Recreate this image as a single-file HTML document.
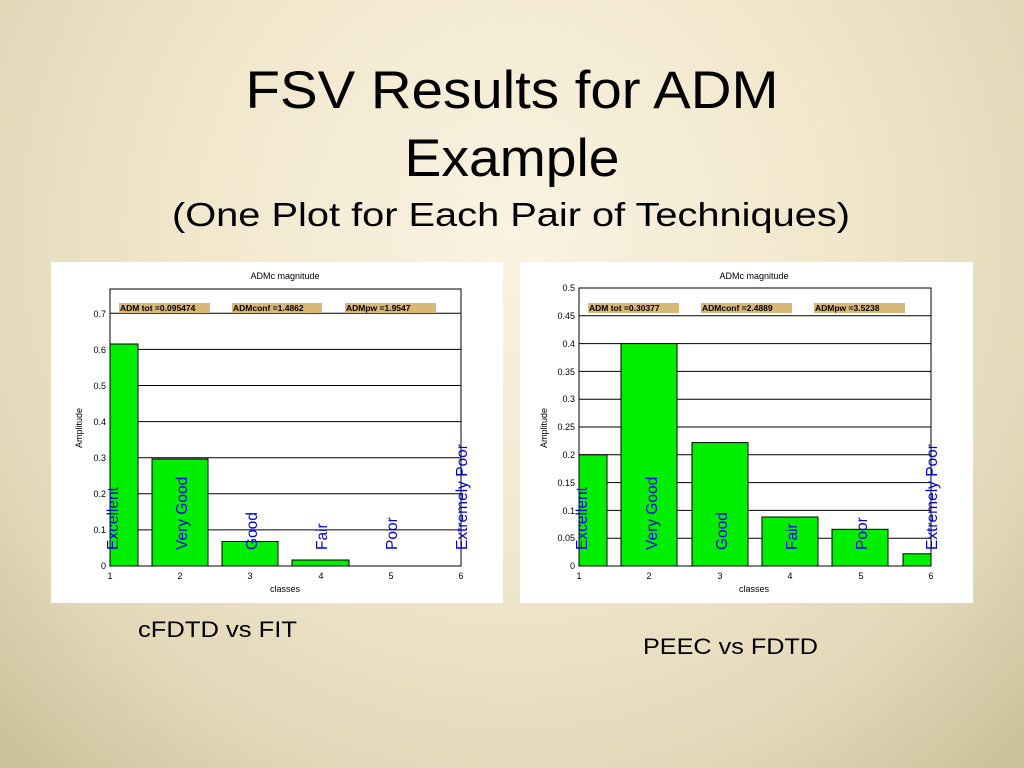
<!DOCTYPE html>
<html><head><meta charset="utf-8"><style>
html,body{margin:0;padding:0;width:1024px;height:768px;overflow:hidden}
body{background:radial-gradient(ellipse 70% 95% at 50% 30%,#faf3e2 0%,#f1e7cc 45%,#e2d7b7 78%,#cdc19c 100%)}
svg{position:absolute;left:0;top:0}
text{font-family:"Liberation Sans",Arial,sans-serif}
</style></head><body>
<svg width="1024" height="768" viewBox="0 0 1024 768">
<text x="512" y="108" font-size="53" text-anchor="middle" textLength="533" lengthAdjust="spacingAndGlyphs">FSV Results for ADM</text>
<text x="512" y="176" font-size="53" text-anchor="middle" textLength="215" lengthAdjust="spacingAndGlyphs">Example</text>
<text x="511" y="226" font-size="33" text-anchor="middle" textLength="678" lengthAdjust="spacingAndGlyphs">(One Plot for Each Pair of Techniques)</text>
<text x="138" y="637" font-size="22" textLength="159" lengthAdjust="spacingAndGlyphs">cFDTD vs FIT</text>
<text x="643" y="654" font-size="22" textLength="175" lengthAdjust="spacingAndGlyphs">PEEC vs FDTD</text>

<!-- LEFT PLOT -->
<rect x="51" y="262" width="452" height="341" fill="#fff"/>
<g stroke="#000" stroke-width="1">
<line x1="110" y1="529.9" x2="461" y2="529.9"/><line x1="110" y1="493.8" x2="461" y2="493.8"/>
<line x1="110" y1="457.7" x2="461" y2="457.7"/><line x1="110" y1="421.6" x2="461" y2="421.6"/>
<line x1="110" y1="385.5" x2="461" y2="385.5"/><line x1="110" y1="349.4" x2="461" y2="349.4"/>
<line x1="110" y1="313.3" x2="461" y2="313.3"/>
</g>
<g fill="#00ee00" stroke="#000" stroke-width="1">
<rect x="110" y="344" width="28" height="222"/>
<rect x="152" y="459" width="56" height="107"/>
<rect x="222" y="541.5" width="56" height="24.5"/>
<rect x="292" y="560" width="57" height="6"/>
</g>
<rect x="110" y="289" width="351" height="277" fill="none" stroke="#000"/>
<g fill="#d8b878"><rect x="119" y="303" width="91" height="10"/><rect x="232" y="303" width="90" height="10"/><rect x="345" y="303" width="91" height="10"/></g>
<g font-size="8.5" font-weight="bold"><text x="120" y="311">ADM tot =0.095474</text><text x="233" y="311">ADMconf =1.4862</text><text x="346" y="311">ADMpw =1.9547</text></g>
<text x="285" y="279" font-size="9" text-anchor="middle">ADMc magnitude</text>
<text x="285" y="592" font-size="9" text-anchor="middle">classes</text>
<text x="82" y="428" font-size="9" text-anchor="middle" transform="rotate(-90 82 428)">Amplitude</text>
<g font-size="9" text-anchor="end"><text x="106" y="569">0</text><text x="106" y="533">0.1</text><text x="106" y="497">0.2</text><text x="106" y="461">0.3</text><text x="106" y="425">0.4</text><text x="106" y="389">0.5</text><text x="106" y="353">0.6</text><text x="106" y="317">0.7</text></g>
<g font-size="9" text-anchor="middle"><text x="110" y="579">1</text><text x="180" y="579">2</text><text x="250" y="579">3</text><text x="321" y="579">4</text><text x="391" y="579">5</text><text x="461" y="579">6</text></g>
<g font-size="15.5" fill="#0000dd">
<text transform="translate(118 550) rotate(-90)">Excellent</text>
<text transform="translate(187 550) rotate(-90)">Very Good</text>
<text transform="translate(257 550) rotate(-90)">Good</text>
<text transform="translate(327 550) rotate(-90)">Fair</text>
<text transform="translate(397 550) rotate(-90)">Poor</text>
<text transform="translate(467 550) rotate(-90)">Extremely Poor</text>
</g>

<!-- RIGHT PLOT -->
<rect x="520" y="262" width="453" height="341" fill="#fff"/>
<g stroke="#000" stroke-width="1">
<line x1="579" y1="538.2" x2="931" y2="538.2"/><line x1="579" y1="510.4" x2="931" y2="510.4"/>
<line x1="579" y1="482.6" x2="931" y2="482.6"/><line x1="579" y1="454.8" x2="931" y2="454.8"/>
<line x1="579" y1="427" x2="931" y2="427"/><line x1="579" y1="399.2" x2="931" y2="399.2"/>
<line x1="579" y1="371.4" x2="931" y2="371.4"/><line x1="579" y1="343.6" x2="931" y2="343.6"/>
<line x1="579" y1="315.8" x2="931" y2="315.8"/>
</g>
<g fill="#00ee00" stroke="#000" stroke-width="1">
<rect x="579" y="454.8" width="28" height="111.2"/>
<rect x="621" y="343.6" width="56" height="222.4"/>
<rect x="692" y="442.6" width="56" height="123.4"/>
<rect x="762" y="517" width="56" height="49"/>
<rect x="832" y="529.3" width="56" height="36.7"/>
<rect x="903" y="553.8" width="28" height="12.2"/>
</g>
<rect x="579" y="288" width="352" height="278" fill="none" stroke="#000"/>
<g fill="#d8b878"><rect x="588" y="303" width="91" height="10"/><rect x="701" y="303" width="91" height="10"/><rect x="814" y="303" width="91" height="10"/></g>
<g font-size="8.5" font-weight="bold"><text x="589" y="311">ADM tot =0.30377</text><text x="702" y="311">ADMconf =2.4889</text><text x="815" y="311">ADMpw =3.5238</text></g>
<text x="754" y="279" font-size="9" text-anchor="middle">ADMc magnitude</text>
<text x="754" y="592" font-size="9" text-anchor="middle">classes</text>
<text x="547" y="428" font-size="9" text-anchor="middle" transform="rotate(-90 547 428)">Amplitude</text>
<g font-size="9" text-anchor="end"><text x="575" y="569">0</text><text x="575" y="541">0.05</text><text x="575" y="514">0.1</text><text x="575" y="486">0.15</text><text x="575" y="458">0.2</text><text x="575" y="430">0.25</text><text x="575" y="402">0.3</text><text x="575" y="375">0.35</text><text x="575" y="347">0.4</text><text x="575" y="319">0.45</text><text x="575" y="291">0.5</text></g>
<g font-size="9" text-anchor="middle"><text x="579" y="579">1</text><text x="649" y="579">2</text><text x="720" y="579">3</text><text x="790" y="579">4</text><text x="861" y="579">5</text><text x="931" y="579">6</text></g>
<g font-size="15.5" fill="#0000dd">
<text transform="translate(587 550) rotate(-90)">Excellent</text>
<text transform="translate(657 550) rotate(-90)">Very Good</text>
<text transform="translate(727 550) rotate(-90)">Good</text>
<text transform="translate(797 550) rotate(-90)">Fair</text>
<text transform="translate(867 550) rotate(-90)">Poor</text>
<text transform="translate(937 550) rotate(-90)">Extremely Poor</text>
</g>
</svg>
</body></html>
